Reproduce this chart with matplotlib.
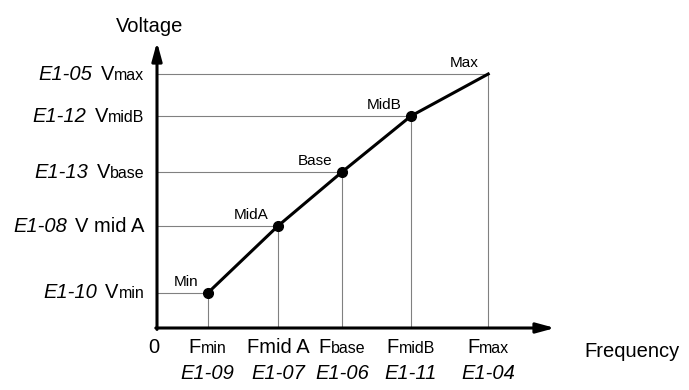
import matplotlib
matplotlib.use('Agg')
import matplotlib.pyplot as plt
from matplotlib.offsetbox import TextArea, HPacker, AnnotationBbox

plt.rcParams['font.family'] = ['Liberation Sans', 'DejaVu Sans']

# V/f pattern points (arbitrary units)
point_names = ['Min', 'MidA', 'Base', 'MidB', 'Max']
freqs = [9.2, 21.9, 33.5, 46.0, 60.0]
volts = [27.6, 80.3, 122.8, 166.9, 200.0]

# axis labels: (parameter, main text, small text)
volt_params = ['E1-10', 'E1-08', 'E1-13', 'E1-12', 'E1-05']
volt_main = ['V', 'V mid A', 'V', 'V', 'V']
volt_small = ['min', '', 'base', 'midB', 'max']
freq_params = ['E1-09', 'E1-07', 'E1-06', 'E1-11', 'E1-04']
freq_main = ['F', 'Fmid A', 'F', 'F', 'F']
freq_small = ['min', '', 'base', 'midB', 'max']

BIG = 14.5
SMALL = 11.5
GUIDE = '#808080'

fig = plt.figure(figsize=(6.89, 3.90), dpi=100)
ax = fig.add_axes([157 / 689, 62 / 390, 398 / 689, 286 / 390])
ax.set_xlim(0, 72.1)
ax.set_ylim(0, 225.2)
ax.axis('off')

# axes with arrow heads
arrow = dict(arrowstyle='-|>,head_length=0.55,head_width=0.15', mutation_scale=20,
             lw=2.2, color='k', shrinkA=0, shrinkB=0)
ax.annotate('', xy=(0, 1), xytext=(0, -0.005), xycoords='axes fraction', arrowprops=arrow)
ax.annotate('', xy=(1, 0), xytext=(-0.003, 0), xycoords='axes fraction', arrowprops=arrow)

# guide lines
for f, v in zip(freqs, volts):
    ax.plot([0, f], [v, v], color=GUIDE, lw=0.8, zorder=1, solid_capstyle='butt')
    ax.plot([f, f], [0, v], color=GUIDE, lw=0.8, zorder=1, solid_capstyle='butt')

# the pattern itself
ax.plot(freqs, volts, color='k', lw=2.2, zorder=3)
ax.plot(freqs[:-1], volts[:-1], 'o', color='k', ms=7, zorder=4)

for name, f, v in zip(point_names, freqs, volts):
    ax.annotate(name, (f, v), xytext=(-7, 5), textcoords='offset points',
                ha='right', va='baseline', fontsize=11)


def label_box(main, small):
    kids = []
    if main:
        kids.append(TextArea(main, textprops=dict(fontsize=BIG)))
    if small:
        kids.append(TextArea(small, textprops=dict(fontsize=SMALL)))
    return HPacker(children=kids, align='baseline', pad=0, sep=0)


# voltage labels on the left
for p, m, s, v in zip(volt_params, volt_main, volt_small, volts):
    kids = [TextArea(p, textprops=dict(fontsize=BIG, style='italic')),
            label_box(m, s)]
    box = HPacker(children=kids, align='baseline', pad=0, sep=6)
    ab = AnnotationBbox(box, (0, v), xybox=(-9, 0), xycoords='data',
                        boxcoords='offset points', box_alignment=(1, 0.5),
                        frameon=False, pad=0)
    ax.add_artist(ab)

# frequency labels below
for p, m, s, f in zip(freq_params, freq_main, freq_small, freqs):
    ab = AnnotationBbox(label_box(m, s), (f, 0), xybox=(0, -7),
                        xycoords='data', boxcoords='offset points',
                        box_alignment=(0.5, 1), frameon=False, pad=0)
    ax.add_artist(ab)
    ax.annotate(p, (f, 0), xytext=(0, -26), textcoords='offset points',
                ha='center', va='top', fontsize=BIG, style='italic')

ax.annotate('0', (0, 0), xytext=(-2, -7), textcoords='offset points',
            ha='center', va='top', fontsize=BIG)
ax.annotate('Voltage', (0, 1), xycoords='axes fraction', xytext=(-5, 7),
            textcoords='offset points', ha='center', va='baseline', fontsize=BIG)
ax.annotate('Frequency', (1, 0), xycoords='axes fraction', xytext=(21, -21),
            textcoords='offset points', ha='left', va='baseline', fontsize=BIG)

fig.savefig('out.png', dpi=100)
